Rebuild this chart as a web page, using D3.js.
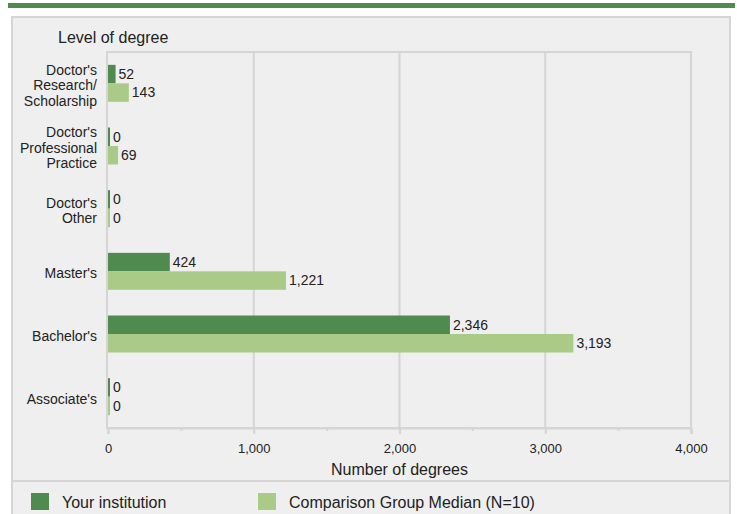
<!DOCTYPE html>
<html>
<head>
<meta charset="utf-8">
<script src="https://cdn.jsdelivr.net/npm/d3@7"></script>
<style>
  html, body { margin: 0; padding: 0; background: #fff; }
  svg { display: block; font-family: "Liberation Sans", Arial, sans-serif; }
</style>
</head>
<body>
<svg id="chart" width="737" height="514"></svg>
<script>
const categories = [
  ["Doctor's", "Research/", "Scholarship"],
  ["Doctor's", "Professional", "Practice"],
  ["Doctor's", "Other"],
  ["Master's"],
  ["Bachelor's"],
  ["Associate's"]
];
const seriesNames = ["Your institution", "Comparison Group Median (N=10)"];
const yourInstitution = [52, 0, 0, 424, 2346, 0];
const comparisonMedian = [143, 69, 0, 1221, 3193, 0];
const xTicks = [0, 1000, 2000, 3000, 4000];
const xMinorTicks = [500, 1500, 2500, 3500];
const yTitle = "Level of degree";
const xTitle = "Number of degrees";

const colors = ["#4f8a4f", "#aacb88"];
const textColor = "#222";
const borderColor = "#d5d5d5";
const panelFill = "#efefef";

const svg = d3.select("#chart");
const fmt = d3.format(",");

// top green bar
svg.append("rect").attr("x", 8).attr("y", 3).attr("width", 727).attr("height", 5).attr("fill", colors[0]);

// panel
svg.append("rect").attr("x", 12).attr("y", 17).attr("width", 718).attr("height", 510)
  .attr("fill", panelFill).attr("stroke", borderColor).attr("stroke-width", 2);

const plot = { left: 108, right: 691, top: 52, bottom: 428 };

const x = d3.scaleLinear().domain([0, 4000]).range([plot.left, plot.right]);
const keys = categories.map((c, i) => i);
const y = d3.scaleBand().domain(keys).range([plot.top, plot.bottom]).paddingInner(0.41).paddingOuter(0.205);
const sub = d3.scaleBand().domain([0, 1]).range([0, y.bandwidth()]);

// plot border
svg.append("rect").attr("x", plot.left - 1).attr("y", plot.top)
  .attr("width", plot.right - plot.left + 1).attr("height", plot.bottom - plot.top)
  .attr("fill", "none").attr("stroke", borderColor).attr("stroke-width", 2);

// gridlines
svg.append("g").selectAll("line").data(xTicks.slice(1, -1)).join("line")
  .attr("x1", d => x(d)).attr("x2", d => x(d))
  .attr("y1", plot.top).attr("y2", plot.bottom)
  .attr("stroke", borderColor).attr("stroke-width", 2);

// x axis
const xAxis = d3.axisBottom(x).tickValues(xTicks).tickFormat(fmt).tickSize(6).tickPadding(10);
const gx = svg.append("g").attr("transform", `translate(0,${plot.bottom})`).call(xAxis);
gx.attr("font-family", "Liberation Sans, Arial, sans-serif");
gx.select(".domain").attr("stroke", borderColor).attr("stroke-width", 2);
gx.selectAll(".tick line").attr("stroke", borderColor).attr("stroke-width", 2);
gx.selectAll(".tick text").attr("fill", textColor).attr("font-size", 13);
const minorAxis = d3.axisBottom(x).tickValues(xMinorTicks).tickFormat("").tickSize(3);
const gm = svg.append("g").attr("transform", `translate(0,${plot.bottom})`).call(minorAxis);
gm.select(".domain").remove();
gm.selectAll(".tick line").attr("stroke", borderColor).attr("stroke-width", 2);

// axis titles
svg.append("text").attr("x", (plot.left + plot.right) / 2).attr("y", 475)
  .attr("text-anchor", "middle").attr("font-size", 16).attr("fill", textColor).text(xTitle);
svg.append("text").attr("x", 58).attr("y", 43)
  .attr("font-size", 16).attr("fill", textColor).text(yTitle);

// category labels
const lineH = 15.5;
const catG = svg.append("g");
categories.forEach((lines, i) => {
  const cy = y(i) + y.bandwidth() / 2 + 2;
  const t = catG.append("text").attr("text-anchor", "end").attr("font-size", 14).attr("fill", textColor);
  lines.forEach((ln, j) => {
    t.append("tspan").attr("x", 97)
      .attr("y", cy + (j - (lines.length - 1) / 2) * lineH)
      .attr("dy", "0.35em").text(ln);
  });
});

// bars
const series = [yourInstitution, comparisonMedian];
series.forEach((vals, s) => {
  const g = svg.append("g");
  g.selectAll("rect").data(vals).join("rect")
    .attr("x", x(0))
    .attr("y", (d, i) => y(i) + sub(s))
    .attr("width", d => Math.max(2, x(d) - x(0)))
    .attr("height", sub.bandwidth())
    .attr("fill", colors[s]);
  g.selectAll("text").data(vals).join("text")
    .attr("x", d => x(0) + Math.max(2, x(d) - x(0)) + 3)
    .attr("y", (d, i) => y(i) + sub(s) + sub.bandwidth() / 2)
    .attr("dy", "0.35em")
    .attr("font-size", 14).attr("fill", textColor)
    .text(d => fmt(d));
});

// legend separator
svg.append("line").attr("x1", 12).attr("x2", 730).attr("y1", 481).attr("y2", 481)
  .attr("stroke", borderColor).attr("stroke-width", 2);

// legend
const legendX = [31, 258];
seriesNames.forEach((name, s) => {
  svg.append("rect").attr("x", legendX[s]).attr("y", 493).attr("width", 18).attr("height", 17)
    .attr("fill", colors[s]);
  svg.append("text").attr("x", legendX[s] + 31).attr("y", 502).attr("dy", "0.35em")
    .attr("font-size", 16).attr("fill", textColor).text(name);
});
</script>
</body>
</html>
